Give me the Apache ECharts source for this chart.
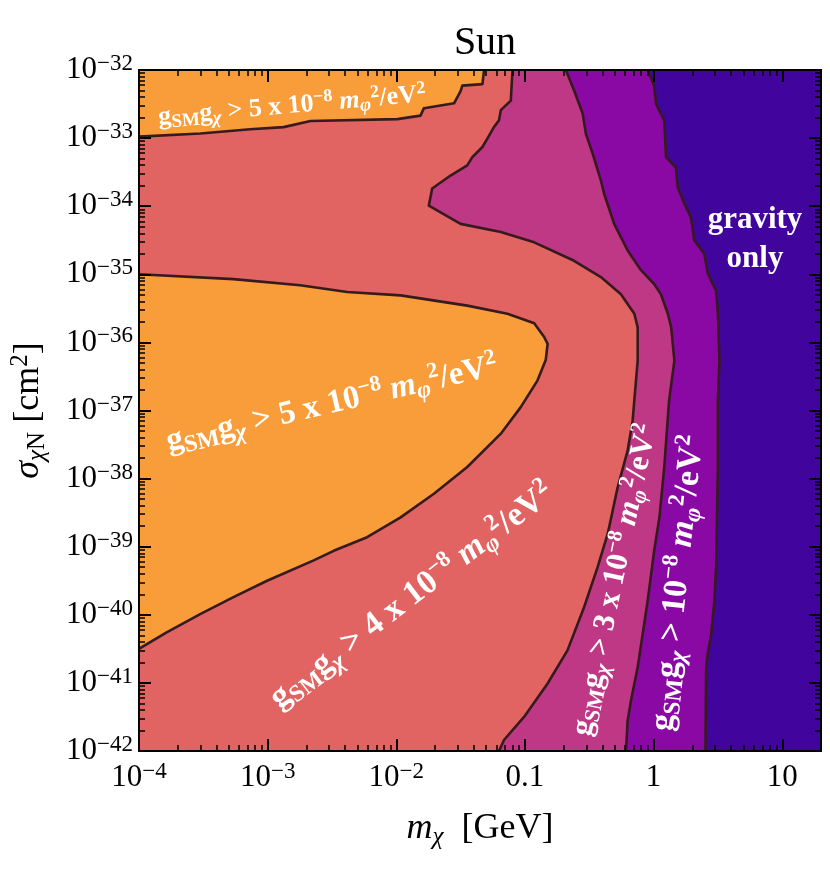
<!DOCTYPE html>
<html>
<head>
<meta charset="utf-8">
<script src="https://cdn.jsdelivr.net/npm/echarts@6/dist/echarts.min.js"></script>
<style>
  html, body { margin: 0; padding: 0; background: #fff; }
  #main { width: 830px; height: 882px; }
</style>
</head>
<body>
<div id="main"></div>
<script>
// axis ranges (m_chi in GeV, sigma in cm^2)
const X_RANGE = [1e-4, 20];
const Y_RANGE = [1e-42, 1e-32];

// tick labels
const X_TICK_EXP = [-4, -3, -2, -1, 0, 1];
const X_TICK_TEXT = ['10^−4', '10^−3', '10^−2', '0.1', '1', '10'];
const Y_TICK_EXP = [-42, -41, -40, -39, -38, -37, -36, -35, -34, -33, -32];
const Y_TICK_TEXT = ['10^−42', '10^−41', '10^−40', '10^−39', '10^−38', '10^−37',
  '10^−36', '10^−35', '10^−34', '10^−33', '10^−32'];

// contour boundaries, [m_chi (GeV), sigma (cm^2)]
// upper orange strip: lower edge, left to right, then up the staircase
const ORANGE_TOP_EDGE = [
  [1e-4, 1.05e-33], [3.0e-4, 1.17e-33], [7.3e-4, 1.35e-33], [1.33e-3, 1.45e-33],
  [2.15e-3, 1.78e-33], [1.02e-2, 1.9e-33], [1.54e-2, 2.14e-33], [1.64e-2, 2.75e-33],
  [2.81e-2, 3.24e-33], [3.16e-2, 4.9e-33], [3.26e-2, 5.9e-33], [4.67e-2, 6.2e-33],
  [4.81e-2, 1e-32]
];
// orange lobe, clockwise from the left edge
const LOBE_EDGE = [
  [1e-4, 1e-35], [5.42e-4, 8.5e-36], [1.79e-3, 6.9e-36], [4.15e-3, 5.5e-36],
  [1.08e-2, 4.9e-36], [3.56e-2, 3.47e-36], [7.31e-2, 2.63e-36], [0.118, 1.91e-36],
  [0.141, 1.2e-36], [0.150, 9.5e-37], [0.145, 5.5e-37], [0.125, 2.75e-37],
  [9.27e-2, 1.12e-37], [6.49e-2, 4.57e-38], [3.56e-2, 1.48e-38], [1.96e-2, 6.0e-39],
  [1.08e-2, 2.7e-39], [5.93e-3, 1.38e-39], [3.26e-3, 8.7e-40], [2.28e-3, 6.3e-40],
  [9.9e-4, 3.16e-40], [5.42e-4, 1.82e-40], [2.99e-4, 1.02e-40], [1.64e-4, 5.5e-41],
  [1e-4, 3.16e-41]
];
// 3e-8 contour (left edge of magenta), top to bottom
const MAGENTA_EDGE = [
  [8.0e-2, 1e-32], [7.76e-2, 3.55e-33], [6.49e-2, 2.57e-33], [6.28e-2, 1.82e-33],
  [5.74e-2, 1.45e-33], [5.1e-2, 9.8e-34], [4.67e-2, 7.4e-34], [3.9e-2, 5.25e-34],
  [3.56e-2, 3.98e-34], [2.64e-2, 2.82e-34], [1.9e-2, 1.82e-34], [1.79e-2, 1.02e-34],
  [3.16e-2, 5.5e-35], [6.49e-2, 4.17e-35], [0.118, 2.95e-35], [0.241, 1.58e-35],
  [0.389, 9.1e-36], [0.557, 5.1e-36], [0.708, 2.63e-36], [0.752, 1.66e-36],
  [0.752, 5.4e-37], [0.708, 1.41e-37], [0.687, 7.1e-38], [0.628, 2.57e-38],
  [0.525, 7.4e-39], [0.440, 1.55e-39], [0.367, 5.0e-40], [0.288, 1.29e-40],
  [0.214, 3.0e-41], [0.150, 9.8e-42], [9.84e-2, 3.16e-42], [6.87e-2, 1.45e-42],
  [6.28e-2, 1e-42]
];
// 1e-8 contour
const PURPLE_EDGE = [
  [0.208, 1e-32], [0.241, 5.0e-33], [0.281, 2.29e-33], [0.298, 1.15e-33],
  [0.336, 5.9e-34], [0.389, 2.4e-34], [0.413, 1.51e-34], [0.494, 5.5e-35],
  [0.628, 2.24e-35], [0.798, 1.15e-35], [1.01, 7.2e-36], [1.14, 5.1e-36],
  [1.29, 2.63e-36], [1.37, 1.66e-36], [1.45, 5.4e-37], [1.32, 1.41e-37],
  [1.29, 7.9e-38], [1.21, 1.48e-38], [1.11, 2.7e-39], [1.01, 8.7e-40],
  [0.90, 1.62e-40], [0.822, 5.2e-41], [0.752, 1.7e-41], [0.667, 5.5e-42],
  [0.628, 2.75e-42], [0.610, 1e-42]
];
// gravity only boundary
const INDIGO_EDGE = [
  [0.90, 1e-32], [1.01, 5.9e-33], [1.045, 3.16e-33], [1.21, 1.82e-33],
  [1.25, 5.25e-34], [1.49, 3.7e-34], [1.54, 1.9e-34], [1.73, 1.1e-34],
  [1.95, 6.9e-35], [2.07, 3.16e-35], [2.48, 2.0e-35], [2.64, 1.02e-35],
  [3.06, 5.75e-36], [3.16, 2.63e-36], [3.25, 5.4e-37], [3.16, 1.41e-37],
  [3.16, 1.48e-38], [3.06, 5.0e-40], [2.97, 1.62e-40], [2.80, 5.2e-41],
  [2.64, 2.7e-41], [2.56, 1.7e-41], [2.53, 1e-42]
];

const SERIF = '"Liberation Serif", "DejaVu Serif", serif';
const LINE = '#361a1e';
const lg = Math.log10;
const toLog = pts => pts.map(p => [lg(p[0]), lg(p[1])]);
const X0 = X_RANGE[0], X1 = X_RANGE[1], Y0 = Y_RANGE[0], Y1 = Y_RANGE[1];

// minor tick positions (2..9 per decade)
function minorTicks(lo, hi) {
  const out = [];
  for (let d = Math.floor(lg(lo)); d < Math.ceil(lg(hi)); d++) {
    for (let k = 2; k <= 9; k++) {
      const v = d + lg(k);
      if (v > lg(lo) && v < lg(hi)) out.push(v);
    }
  }
  return out;
}

const tickRich = {
  b: { fontFamily: SERIF, fontSize: 31, lineHeight: 35, color: '#000' },
  s: { fontFamily: SERIF, fontSize: 23, lineHeight: 23, verticalAlign: 'top', color: '#000' }
};
function tickText(t) {
  const parts = t.split('^');
  return parts.length > 1 ? `{b|${parts[0]}}{s|${parts[1]}}` : `{b|${t}}`;
}

function makeAxis(dim, position, tickVals, tickLen, tickW, label) {
  const range = dim === 'x' ? X_RANGE : Y_RANGE;
  return {
    type: 'value', position, z: 10,
    min: lg(range[0]), max: lg(range[1]),
    splitLine: { show: false },
    axisLine: { onZero: false, lineStyle: { color: '#000', width: 2 } },
    axisTick: { show: true, inside: true, length: tickLen, customValues: tickVals,
      lineStyle: { color: '#000', width: tickW } },
    axisLabel: label || { show: false }
  };
}

const nameRich = {
  i: { fontFamily: SERIF, fontStyle: 'italic', fontSize: 36, lineHeight: 42, color: '#000' },
  subi: { fontFamily: SERIF, fontStyle: 'italic', fontSize: 25, lineHeight: 25, verticalAlign: 'bottom', color: '#000' },
  sub: { fontFamily: SERIF, fontSize: 25, lineHeight: 25, verticalAlign: 'bottom', color: '#000' },
  sup: { fontFamily: SERIF, fontSize: 25, lineHeight: 25, verticalAlign: 'top', color: '#000' },
  r: { fontFamily: SERIF, fontSize: 36, lineHeight: 42, color: '#000' }
};

const xMain = makeAxis('x', 'bottom', X_TICK_EXP, 12, 2, {
  show: true, customValues: X_TICK_EXP, margin: 9,
  formatter: v => tickText(X_TICK_TEXT[X_TICK_EXP.indexOf(v)]),
  rich: tickRich
});
xMain.name = '{i|m}{subi|χ}{r|  [GeV]}';
xMain.nameLocation = 'middle';
xMain.nameGap = 57;
xMain.nameTextStyle = { rich: nameRich };

const yMain = makeAxis('y', 'left', Y_TICK_EXP, 12, 2, {
  show: true, customValues: Y_TICK_EXP, margin: 6,
  formatter: v => tickText(Y_TICK_TEXT[Y_TICK_EXP.indexOf(v)]),
  rich: tickRich
});
yMain.name = '{i|σ}{subi|χ}{sub|N}{r| [cm}{sup|2}{r|]}';
yMain.nameLocation = 'middle';
yMain.nameGap = 89;
yMain.nameTextStyle = { rich: nameRich };

const xMinor = minorTicks(X0, X1);
const yMinor = minorTicks(Y0, Y1);

// filled region (polygon) plus its contour line, both placed through the axes
function region(fill, polyPts, linePts) {
  const poly = toLog(polyPts);
  const line = toLog(linePts);
  return {
    type: 'custom', xAxisIndex: 0, yAxisIndex: 0, clip: true, silent: true,
    data: [[lg(X0), lg(Y0)]],
    renderItem: (params, api) => ({
      type: 'group',
      children: [
        { type: 'polygon', shape: { points: poly.map(p => api.coord(p)) },
          style: { fill: fill } },
        { type: 'polyline', shape: { points: line.map(p => api.coord(p)) },
          style: { stroke: LINE, lineWidth: 2.6, fill: null, lineJoin: 'round' } }
      ]
    })
  };
}
const rightSide = [[X1, Y0], [X1, Y1]];
const series = [
  region('#F99D3A', [[X0, Y1]].concat(ORANGE_TOP_EDGE), ORANGE_TOP_EDGE),
  region('#F99D3A', LOBE_EDGE, LOBE_EDGE),
  region('#BE3885', MAGENTA_EDGE.concat(rightSide), MAGENTA_EDGE),
  region('#8A09A5', PURPLE_EDGE.concat(rightSide), PURPLE_EDGE),
  region('#41049D', INDIGO_EDGE.concat(rightSide), INDIGO_EDGE)
];

function labelRich(s) {
  const base = { fontFamily: SERIF, fontWeight: 'bold', fill: '#fff', color: '#fff' };
  const big = Math.round(s * 1.2), small = Math.round(s * 0.72), tiny = Math.round(s * 0.68);
  return {
    g: Object.assign({}, base, { fontSize: s, lineHeight: big }),
    t: Object.assign({}, base, { fontSize: s, lineHeight: big }),
    m: Object.assign({}, base, { fontStyle: 'italic', fontSize: s, lineHeight: big }),
    sm: Object.assign({}, base, { fontSize: small, lineHeight: small, verticalAlign: 'bottom' }),
    sub: Object.assign({}, base, { fontStyle: 'italic', fontSize: small, lineHeight: small, verticalAlign: 'bottom' }),
    sup: Object.assign({}, base, { fontSize: tiny, lineHeight: tiny, verticalAlign: 'top' })
  };
}
function couplingText(pre) {
  return `{g|g}{sm|SM}{g|g}{sub|χ}{t| > ${pre}10}{sup|−8}{t| }{m|m}{sub|φ}{sup|2}{t|/eV}{sup|2}`;
}
function label(pre, x, y, deg, s) {
  return {
    type: 'text', x, y, rotation: deg * Math.PI / 180, z: 20, silent: true,
    style: { text: couplingText(pre), rich: labelRich(s), align: 'center', verticalAlign: 'middle', fill: '#fff' }
  };
}

const chart = echarts.init(document.getElementById('main'), null, { renderer: 'canvas' });
chart.setOption({
  animation: false,
  backgroundColor: '#fff',
  title: {
    text: 'Sun', left: 480, top: 18, textAlign: 'center',
    textStyle: { fontFamily: SERIF, fontSize: 40, fontWeight: 'normal', color: '#000' }
  },
  grid: { left: 139, top: 70, right: 9, bottom: 131, show: true, backgroundColor: '#E16462', borderWidth: 0 },
  xAxis: [
    xMain,
    makeAxis('x', 'bottom', xMinor, 6, 1.5),
    makeAxis('x', 'top', X_TICK_EXP, 12, 2),
    makeAxis('x', 'top', xMinor, 6, 1.5)
  ],
  yAxis: [
    yMain,
    makeAxis('y', 'left', yMinor, 6, 1.5),
    makeAxis('y', 'right', Y_TICK_EXP, 12, 2),
    makeAxis('y', 'right', yMinor, 6, 1.5)
  ],
  series: series,
  graphic: [
    label('5 x ', 292, 106, 4.9, 26),
    label('5 x ', 332, 404, 13, 33),
    label('4 x ', 412, 596, 37.5, 34),
    label('3 x ', 615, 580, 78, 31),
    label('', 678, 583, 84, 34),
    {
      type: 'text', x: 755, y: 239, z: 20, silent: true,
      style: { text: 'gravity\nonly', fontFamily: SERIF, fontWeight: 'bold', fontSize: 31,
        lineHeight: 39, align: 'center', verticalAlign: 'middle', fill: '#fff' }
    }
  ]
});
</script>
</body>
</html>
